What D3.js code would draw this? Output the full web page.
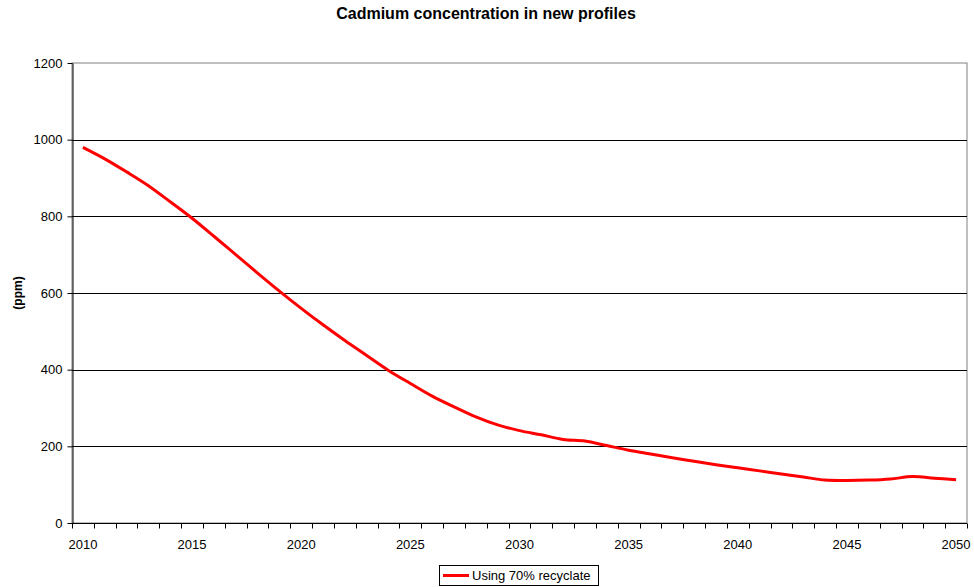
<!DOCTYPE html>
<html>
<head>
<meta charset="utf-8">
<script src="https://cdn.jsdelivr.net/npm/d3@7"></script>
<style>
	body { margin: 0; background: #fff; }
	text { font-family: 'Liberation Sans', Arial, sans-serif; }
</style>
</head>
<body>
<div id="chart"></div>
<script>
// data
let years = d3.range(2010, 2051)
let cadmium = [
	980, 950, 916, 880, 838, 795, 748, 700, 652, 605,
	560, 517, 476, 437, 398, 364, 331, 303, 277, 256,
	241, 230, 218, 214, 202, 190, 180, 170, 161, 152,
	144, 136, 128, 120, 112, 111, 112, 115, 121, 117,
	113
]
let yTicks = [0, 200, 400, 600, 800, 1000, 1200]
let xLabels = [2010, 2015, 2020, 2025, 2030, 2035, 2040, 2045, 2050]

let width = 974
let height = 587
let plot = { left: 72, right: 967, top: 63, bottom: 523 }

let svg = d3
	.select('#chart')
	.append('svg:svg')
	.attr('width', width)
	.attr('height', height)

let x = d3.scaleBand()
	.domain(years)
	.range([plot.left, plot.right])

let y = d3.scaleLinear()
	.domain([0, 1200])
	.range([plot.bottom, plot.top])

// title
svg.append('text')
	.attr('x', 486)
	.attr('y', 19)
	.attr('text-anchor', 'middle')
	.attr('font-size', 16)
	.attr('font-weight', 'bold')
	.text('Cadmium concentration in new profiles')

// plot border (gray) then gridlines
svg.append('rect')
	.attr('x', plot.left)
	.attr('y', plot.top)
	.attr('width', plot.right - plot.left)
	.attr('height', plot.bottom - plot.top)
	.attr('fill', 'none')
	.attr('stroke', '#808080')
	.attr('stroke-width', 1)

svg.append('g')
	.selectAll('line')
	.data(yTicks.filter(d => d > 0 && d < 1200))
	.join('line')
	.attr('x1', plot.left)
	.attr('x2', plot.right)
	.attr('y1', d => Math.round(y(d)) + 0.5)
	.attr('y2', d => Math.round(y(d)) + 0.5)
	.attr('stroke', '#000')
	.attr('stroke-width', 1)

// y axis
let yAxis = svg.append('g')
	.attr('transform', `translate(${plot.left + 0.5},0)`)
	.call(d3.axisLeft(y).tickValues(yTicks).tickFormat(d3.format('d'))
		.tickSize(5).tickPadding(5).tickSizeOuter(0))
yAxis.select('.domain').attr('stroke', '#000')
yAxis.selectAll('text').attr('font-size', 13).attr('fill', '#000')
	.style('font-family', "'Liberation Sans', Arial, sans-serif")

// x axis: ticks between categories, labels every 5 years
let xAxis = svg.append('g')
	.attr('transform', `translate(0,${plot.bottom + 0.5})`)
xAxis.append('line')
	.attr('x1', plot.left)
	.attr('x2', plot.right)
	.attr('stroke', '#000')
xAxis.selectAll('.tick')
	.data(years.concat([2051]))
	.join('line')
	.attr('class', 'tick')
	.attr('x1', d => Math.round(d === 2051 ? plot.right : x(d)) + 0.5)
	.attr('x2', d => Math.round(d === 2051 ? plot.right : x(d)) + 0.5)
	.attr('y1', 0)
	.attr('y2', 5)
	.attr('stroke', '#000')
xAxis.selectAll('.lbl')
	.data(xLabels)
	.join('text')
	.attr('class', 'lbl')
	.attr('x', d => x(d) + x.bandwidth() / 2)
	.attr('y', 25)
	.attr('text-anchor', 'middle')
	.attr('font-size', 13)
	.text(d => d)

// y axis title
svg.append('text')
	.attr('transform', 'translate(22,293) rotate(-90)')
	.attr('text-anchor', 'middle')
	.attr('font-size', 12)
	.attr('font-weight', 'bold')
	.text('(ppm)')

// the series
let line = d3.line()
	.x((d, i) => x(years[i]) + x.bandwidth() / 2)
	.y(d => y(d))
	.curve(d3.curveCatmullRom.alpha(0.5))

svg.append('path')
	.datum(cadmium)
	.attr('d', line)
	.attr('fill', 'none')
	.attr('stroke', '#ff0000')
	.attr('stroke-width', 3)

// legend
let legend = svg.append('g')
legend.append('rect')
	.attr('x', 439.5)
	.attr('y', 565.5)
	.attr('width', 159)
	.attr('height', 20)
	.attr('fill', '#fff')
	.attr('stroke', '#000')
legend.append('line')
	.attr('x1', 443)
	.attr('x2', 469)
	.attr('y1', 575.5)
	.attr('y2', 575.5)
	.attr('stroke', '#ff0000')
	.attr('stroke-width', 3)
legend.append('text')
	.attr('x', 472)
	.attr('y', 580)
	.attr('font-size', 13)
	.text('Using 70% recyclate')
</script>
</body>
</html>
